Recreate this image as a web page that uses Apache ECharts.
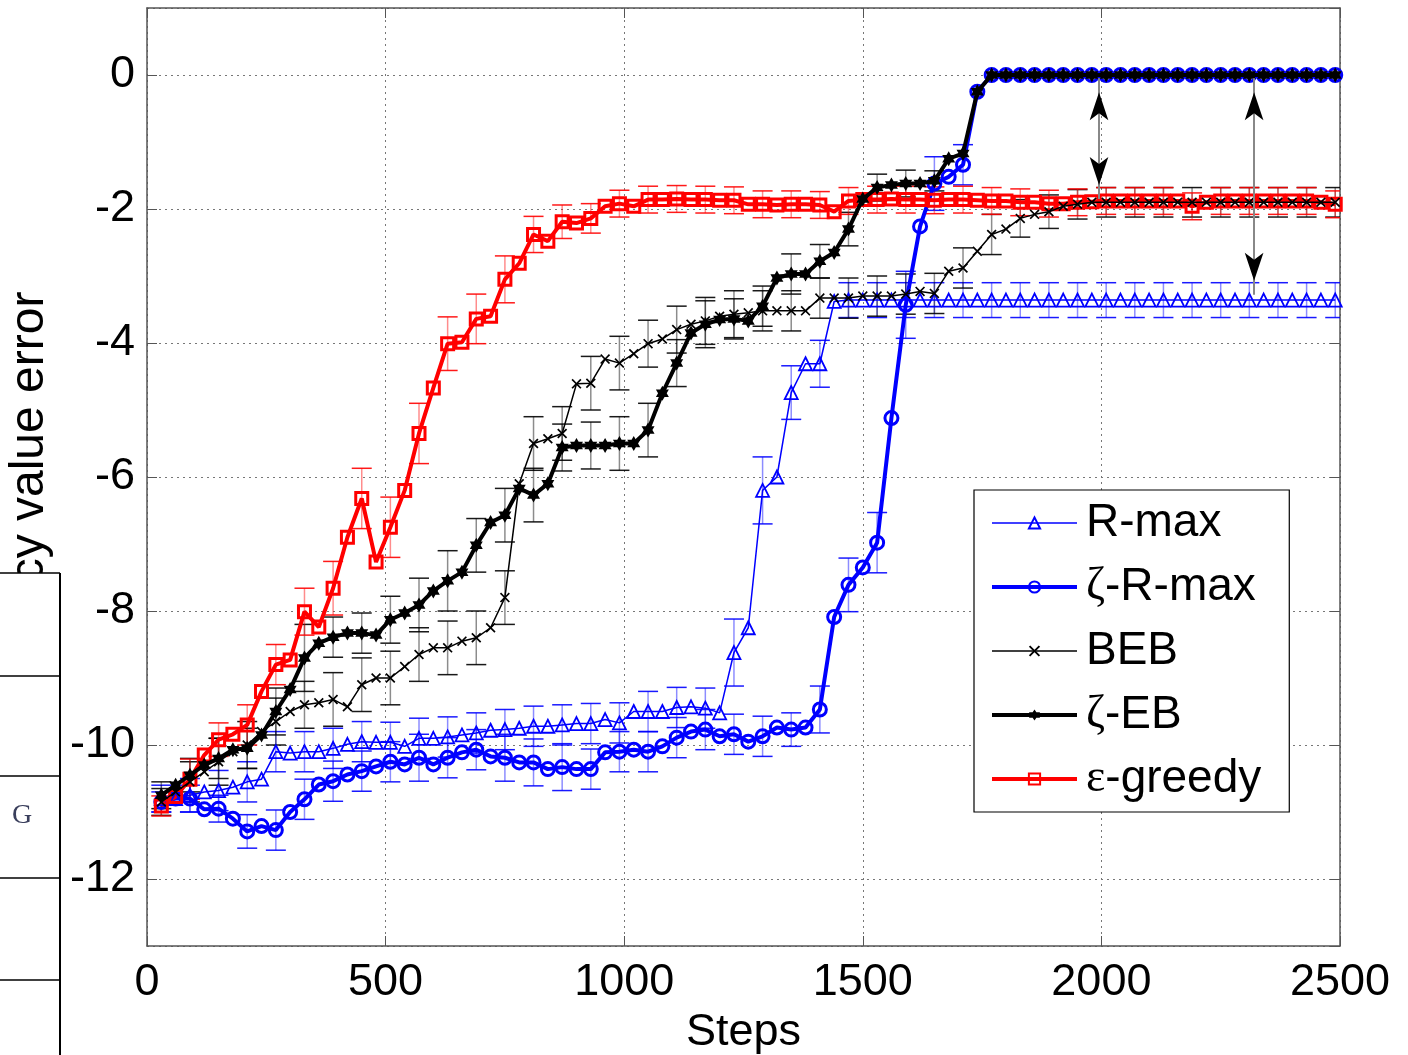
<!DOCTYPE html>
<html><head><meta charset="utf-8">
<script src="https://cdn.jsdelivr.net/npm/echarts@6/dist/echarts.min.js"></script>
<style>html,body{margin:0;padding:0;background:#fff;}#c{width:1408px;height:1055px;}</style>
</head><body><div id="c"></div>
<script>
// ---------- data ----------
const steps = [30,60,90,120,150,180,210,240,270,300,330,360,390,420,450,480,510,540,570,600,
630,660,690,720,750,780,810,840,870,900,930,960,990,1020,1050,1080,1110,1140,1170,1200,
1230,1260,1290,1320,1350,1380,1410,1440,1470,1500,1530,1560,1590,1620,1650,1680,1710,1740,1770,1800,
1830,1860,1890,1920,1950,1980,2010,2040,2070,2100,2130,2160,2190,2220,2250,2280,2310,2340,2370,2400,
2430,2460,2490];

const rmax = [-10.8,-10.8,-10.75,-10.7,-10.68,-10.63,-10.55,-10.51,-10.1,-10.12,
-10.1,-10.1,-10.05,-9.99,-9.95,-9.96,-9.96,-10.02,-9.9,-9.9,
-9.88,-9.85,-9.82,-9.78,-9.77,-9.75,-9.72,-9.72,-9.7,-9.68,
-9.68,-9.62,-9.67,-9.5,-9.5,-9.5,-9.44,-9.43,-9.45,-9.52,
-8.62,-8.25,-6.2,-6.0,-4.74,-4.31,-4.31,-3.38,-3.36,-3.36,
-3.36,-3.36,-3.36,-3.36,-3.36,-3.36,-3.36,-3.36,-3.36,-3.36,
-3.36,-3.36,-3.36,-3.36,-3.36,-3.36,-3.36,-3.36,-3.36,-3.36,
-3.36,-3.36,-3.36,-3.36,-3.36,-3.36,-3.36,-3.36,-3.36,-3.36,
-3.36,-3.36,-3.36];

const zetaRmax = [-10.85,-10.8,-10.8,-10.96,-10.95,-11.1,-11.29,-11.21,-11.27,-11.0,
-10.81,-10.59,-10.54,-10.44,-10.39,-10.32,-10.25,-10.29,-10.19,-10.29,
-10.19,-10.11,-10.07,-10.17,-10.19,-10.26,-10.26,-10.36,-10.33,-10.36,
-10.36,-10.11,-10.1,-10.07,-10.1,-10.02,-9.89,-9.8,-9.77,-9.87,
-9.84,-9.95,-9.87,-9.74,-9.77,-9.74,-9.47,-8.09,-7.61,-7.35,
-6.98,-5.12,-3.43,-2.26,-1.62,-1.52,-1.34,-0.25,0,0,
0,0,0,0,0,0,0,0,0,0,
0,0,0,0,0,0,0,0,0,0,
0,0,0];

const beb = [-10.85,-10.7,-10.55,-10.4,-10.25,-10.1,-10.0,-9.8,-9.65,-9.5,
-9.4,-9.37,-9.32,-9.43,-9.1,-9.0,-9.0,-8.83,-8.65,-8.55,
-8.55,-8.45,-8.4,-8.25,-7.8,-6.1,-5.5,-5.43,-5.35,-4.61,
-4.6,-4.24,-4.3,-4.16,-4.01,-3.94,-3.8,-3.72,-3.67,-3.6,
-3.57,-3.55,-3.52,-3.52,-3.52,-3.52,-3.33,-3.33,-3.33,-3.3,
-3.3,-3.3,-3.27,-3.23,-3.26,-2.93,-2.88,-2.63,-2.38,-2.3,
-2.14,-2.08,-2.04,-1.96,-1.93,-1.9,-1.9,-1.9,-1.9,-1.9,
-1.9,-1.9,-1.9,-1.9,-1.9,-1.9,-1.9,-1.9,-1.9,-1.9,
-1.9,-1.9,-1.9];

const zetaEB = [-10.75,-10.6,-10.45,-10.3,-10.2,-10.07,-10.05,-9.85,-9.5,-9.17,
-8.7,-8.48,-8.39,-8.33,-8.33,-8.36,-8.13,-8.03,-7.91,-7.7,
-7.55,-7.42,-7.02,-6.68,-6.57,-6.17,-6.27,-6.1,-5.56,-5.53,
-5.53,-5.53,-5.5,-5.5,-5.3,-4.75,-4.3,-3.85,-3.72,-3.65,
-3.64,-3.67,-3.45,-3.03,-2.97,-2.97,-2.78,-2.65,-2.3,-1.85,
-1.68,-1.64,-1.62,-1.62,-1.58,-1.25,-1.17,-0.25,0,0,
0,0,0,0,0,0,0,0,0,0,
0,0,0,0,0,0,0,0,0,0,
0,0,0];

const greedy = [-10.91,-10.77,-10.51,-10.15,-9.92,-9.84,-9.7,-9.2,-8.8,-8.73,
-8.01,-8.24,-7.66,-6.9,-6.32,-7.27,-6.75,-6.2,-5.35,-4.67,
-4.01,-3.99,-3.64,-3.6,-3.05,-2.81,-2.38,-2.48,-2.19,-2.21,
-2.14,-1.96,-1.92,-1.96,-1.86,-1.86,-1.85,-1.86,-1.86,-1.87,
-1.87,-1.93,-1.93,-1.94,-1.93,-1.93,-1.94,-2.04,-1.88,-1.86,
-1.86,-1.85,-1.86,-1.86,-1.87,-1.86,-1.86,-1.87,-1.88,-1.88,
-1.9,-1.9,-1.92,-1.92,-1.9,-1.89,-1.88,-1.88,-1.88,-1.88,
-1.88,-1.88,-1.96,-1.9,-1.88,-1.88,-1.88,-1.88,-1.88,-1.88,
-1.88,-1.9,-1.93];

// error-bar half widths, one for every second sample (samples 0,2,4,...)
const rmaxErr = [0.2,0.25,0.3,0.3,0.3,0.3,0.3,0.3,0.3,0.3,
0.3,0.3,0.3,0.3,0.3,0.3,0.3,0.3,0.3,0.3,
0.5,0.5,0.4,0.35,0.26,0.26,0.26,0.26,0.26,0.26,
0.26,0.26,0.26,0.26,0.26,0.26,0.26,0.26,0.26,0.26,0.26,0.26];
const zetaRmaxErr = [0.15,0.2,0.2,0.25,0.3,0.3,0.3,0.3,0.3,0.35,
0.3,0.3,0.35,0.35,0.35,0.3,0.3,0.3,0.3,0.3,
0.3,0.3,0.25,0.35,0.4,0.45,0.5,0.4,0.3,0,
0,0,0,0,0,0,0,0,0,0,0,0];
const bebErr = [0.2,0.3,0.35,0.35,0.35,0.35,0.4,0.4,0.4,0.4,
0.4,0.4,0.4,0.4,0.4,0.4,0.4,0.35,0.35,0.35,
0.35,0.3,0.3,0.3,0.3,0.3,0.3,0.3,0.3,0.3,
0.28,0.25,0.22,0.22,0.22,0.22,0.22,0.22,0.22,0.22,0.22,0.22];
const zetaEBErr = [0.2,0.25,0.3,0.3,0.35,0.5,0.3,0.3,0.35,0.4,
0.45,0.4,0.4,0.4,0.35,0.35,0.4,0.4,0.35,0.35,
0.3,0.3,0.3,0.25,0.25,0.2,0.2,0.15,0,0,
0,0,0,0,0,0,0,0,0,0,0,0];
const greedyErr = [0.15,0.3,0.25,0.3,0.3,0.35,0.4,0.45,0.45,0.45,
0.4,0.37,0.35,0.27,0.25,0.22,0.2,0.2,0.2,0.2,
0.2,0.2,0.2,0.2,0.2,0.2,0.2,0.2,0.2,0.2,
0.2,0.2,0.2,0.2,0.2,0.2,0.2,0.2,0.2,0.2,0.2,0.2];

const names = ['R-max','ζ-R-max','BEB','ζ-EB','ε-greedy'];
const legendWidths = [1.5,4,1.5,4,4];
// arrows: [step, top value, bottom value]
const arrows = [[1995,-0.05,-1.85],[2320,-0.05,-3.28]];

// ---------- helpers ----------
const FONT = "'Liberation Sans', Arial, sans-serif";
function pts(vals){ return steps.map((s,i)=>[s, vals[i]]); }
function errPts(vals, errs){ return errs.map((e,j)=>[steps[2*j], vals[2*j], e]); }
function errRender(color){
  return function(params, api){
    const x = api.value(0), y = api.value(1), e = api.value(2);
    if (!(e > 0)) return null;
    const hi = api.coord([x, y + e]), lo = api.coord([x, y - e]);
    const w = 10;
    return {type:'group', children:[
      {type:'line', shape:{x1:hi[0],y1:hi[1],x2:lo[0],y2:lo[1]}, style:{stroke:color,lineWidth:1.5,opacity:0.45}},
      {type:'line', shape:{x1:hi[0]-w,y1:hi[1],x2:hi[0]+w,y2:hi[1]}, style:{stroke:color,lineWidth:1.5,opacity:0.9}},
      {type:'line', shape:{x1:lo[0]-w,y1:lo[1],x2:lo[0]+w,y2:lo[1]}, style:{stroke:color,lineWidth:1.5,opacity:0.9}}
    ]};
  };
}
function hexagram(){
  let p = 'path://';
  for (let k=0;k<12;k++){
    const r = k%2===0 ? 10 : 5.77;
    const a = Math.PI/2 + k*Math.PI/6;
    p += (k===0?'M':'L') + (10 + r*Math.cos(a)).toFixed(2) + ',' + (10 - r*Math.sin(a)).toFixed(2);
  }
  return p + 'Z';
}
const XMARK = 'path://M0,1.2L1.2,0L5,3.8L8.8,0L10,1.2L6.2,5L10,8.8L8.8,10L5,6.2L1.2,10L0,8.8L3.8,5Z';

function errSeries(name, vals, errs, color){
  return {type:'custom', name:name+' err', renderItem: errRender(color), data: errPts(vals, errs),
    encode:{x:0,y:1}, silent:true, z:1, clip:true};
}

const arrowHeads = [];
arrows.forEach(a=>{
  arrowHeads.push({coord:[a[0],a[1]], symbol:'arrow', symbolSize:[14,28], symbolRotate:0, symbolOffset:[0,'50%']});
  arrowHeads.push({coord:[a[0],a[2]], symbol:'arrow', symbolSize:[14,28], symbolRotate:180, symbolOffset:[0,'-50%']});
});

const chart = echarts.init(document.getElementById('c'), null, {renderer:'canvas'});
const option = {
  animation:false,
  backgroundColor:'#fff',
  textStyle:{fontFamily:FONT},
  grid:{left:147, right:68, top:8, bottom:109, containLabel:false, outerBoundsMode:'none'},
  xAxis:[{
    type:'value', min:0, max:2500, interval:500, position:'bottom',
    axisLine:{show:true, onZero:false, lineStyle:{color:'#555', width:1.5}},
    axisTick:{show:true, inside:true, length:10, lineStyle:{color:'#555', width:1}},
    axisLabel:{fontSize:45, color:'#000', margin:14, fontFamily:FONT, formatter:v=>String(v)},
    splitLine:{show:true, lineStyle:{type:[2,4], color:'#777', width:1}},
    name:'Steps', nameLocation:'middle', nameGap:62,
    nameTextStyle:{fontSize:45, color:'#000', fontFamily:FONT}
  },{
    type:'value', min:0, max:2500, interval:500, position:'top',
    axisLine:{show:true, onZero:false, lineStyle:{color:'#555', width:1.5}},
    axisTick:{show:true, inside:true, length:10, lineStyle:{color:'#555', width:1}},
    axisLabel:{show:false}, splitLine:{show:false}
  }],
  yAxis:[{
    type:'value', min:-13, max:1, splitNumber:7, position:'left',
    axisLine:{show:true, onZero:false, lineStyle:{color:'#555', width:1.5}},
    axisTick:{show:true, inside:true, length:10, lineStyle:{color:'#555', width:1}},
    axisLabel:{fontSize:45, color:'#000', margin:12, showMinLabel:false, showMaxLabel:false, fontFamily:FONT, formatter:v=>String(v)},
    splitLine:{show:true, lineStyle:{type:[2,4], color:'#777', width:1}},
    name:'Policy value error', nameLocation:'middle', nameGap:93, nameRotate:90,
    nameTextStyle:{fontSize:48, color:'#000', fontFamily:FONT}
  },{
    type:'value', min:-13, max:1, splitNumber:7, position:'right',
    axisLine:{show:true, onZero:false, lineStyle:{color:'#555', width:1.5}},
    axisTick:{show:true, inside:true, length:10, lineStyle:{color:'#555', width:1}},
    axisLabel:{show:false}, splitLine:{show:false}
  }],
  legend:{
    orient:'vertical', left:974, top:490,
    backgroundColor:'#fff', borderColor:'#000', borderWidth:1.2, borderRadius:0,
    padding:[8,28,8,16], itemWidth:85, itemHeight:14, itemGap:14,
    data:names.map((n,i)=>({name:n, lineStyle:{width:legendWidths[i]}})),
    textStyle:{fontSize:46, color:'#000', fontFamily:FONT, lineHeight:50, padding:[0,0,0,4],
      rich:{g:{fontFamily:"'Liberation Serif', 'DejaVu Serif', serif", fontSize:46, lineHeight:50, color:'#000'},
            t:{fontFamily:FONT, fontSize:46, lineHeight:50, color:'#000'}}},
    formatter:function(n){
      const c = n.charAt(0);
      if (c==='ζ' || c==='ε') return '{g|'+c+'}{t|'+n.slice(1)+'}';
      return n;
    }
  },
  series:[
    errSeries('R-max', rmax, rmaxErr, '#0000ff'),
    errSeries('ζ-R-max', zetaRmax, zetaRmaxErr, '#0000ff'),
    errSeries('BEB', beb, bebErr, '#000000'),
    errSeries('ζ-EB', zetaEB, zetaEBErr, '#000000'),
    errSeries('ε-greedy', greedy, greedyErr, '#ff0000'),
    {type:'line', name:'R-max', data:pts(rmax), symbol:'triangle', symbolSize:13, showAllSymbol:true,
     lineStyle:{color:'#0000ff', width:1.5}, itemStyle:{color:'rgba(255,255,255,0)', borderColor:'#0000ff', borderWidth:1.8}, z:2},
    {type:'line', name:'ζ-R-max', data:pts(zetaRmax), symbol:'circle', symbolSize:13, showAllSymbol:true,
     lineStyle:{color:'#0000ff', width:4}, itemStyle:{color:'rgba(255,255,255,0)', borderColor:'#0000ff', borderWidth:3}, z:2},
    {type:'line', name:'ε-greedy', data:pts(greedy), symbol:'rect', symbolSize:12, showAllSymbol:true,
     lineStyle:{color:'#ff0000', width:4}, itemStyle:{color:'rgba(255,255,255,0)', borderColor:'#ff0000', borderWidth:3}, z:2},
    {type:'line', name:'BEB', data:pts(beb), symbol:XMARK, symbolSize:10, symbolKeepAspect:true, showAllSymbol:true,
     lineStyle:{color:'#000000', width:1.5}, itemStyle:{color:'#000000'}, z:3},
    {type:'line', name:'ζ-EB', data:pts(zetaEB), symbol:hexagram(), symbolSize:15, symbolKeepAspect:true, showAllSymbol:true,
     lineStyle:{color:'#000000', width:4}, itemStyle:{color:'#000000'}, z:3},
    {type:'line', name:'arrows', data:[], silent:true, z:4,
     markLine:{silent:true, animation:false, symbol:['none','none'],
       lineStyle:{color:'#888', width:2, type:'solid'}, label:{show:false},
       data: arrows.map(a=>[{coord:[a[0],a[1]]},{coord:[a[0],a[2]]}])},
     markPoint:{silent:true, animation:false, label:{show:false}, itemStyle:{color:'#000'},
       data: arrowHeads}}
  ],
  graphic:[
    {type:'rect', shape:{x:0,y:573,width:60,height:482}, style:{fill:'#fff', stroke:null}, z:100},
    {type:'line', shape:{x1:60,y1:573,x2:60,y2:1055}, style:{stroke:'#000', lineWidth:2}, z:101},
    {type:'line', shape:{x1:0,y1:573,x2:60,y2:573}, style:{stroke:'#000', lineWidth:1.5}, z:101},
    {type:'line', shape:{x1:0,y1:676,x2:60,y2:676}, style:{stroke:'#000', lineWidth:1.5}, z:101},
    {type:'line', shape:{x1:0,y1:776,x2:60,y2:776}, style:{stroke:'#000', lineWidth:1.5}, z:101},
    {type:'line', shape:{x1:0,y1:878,x2:60,y2:878}, style:{stroke:'#000', lineWidth:1.5}, z:101},
    {type:'line', shape:{x1:0,y1:980,x2:60,y2:980}, style:{stroke:'#000', lineWidth:1.5}, z:101},
    {type:'text', x:22, y:816, style:{text:'G', fontSize:28, fontFamily:"'Liberation Serif', serif", fill:'#3a3f5c', align:'center', verticalAlign:'middle'}, z:101}
  ]
};
chart.setOption(option);
</script>
</body></html>
